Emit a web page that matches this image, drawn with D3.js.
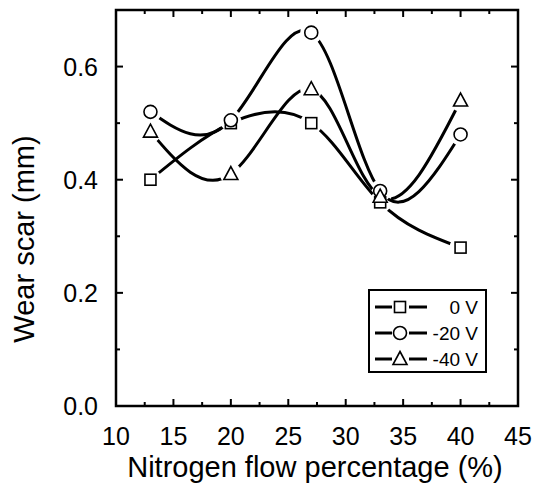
<!DOCTYPE html>
<html>
<head>
<meta charset="utf-8">
<script src="https://cdn.jsdelivr.net/npm/d3@7"></script>
<style>
  body { margin: 0; background: #fff; }
  text { font-family: "Liberation Sans", Arial, sans-serif; fill: #000; }
</style>
</head>
<body>
<script>
// data
const nitrogen = [13, 20, 27, 33, 40];
const wear0V = [0.40, 0.50, 0.50, 0.36, 0.28];
const wear20V = [0.52, 0.505, 0.66, 0.38, 0.48];
const wear40V = [0.485, 0.41, 0.56, 0.37, 0.54];
const seriesNames = ["0 V", "-20 V", "-40 V"];
const seriesShapes = ["square", "circle", "triangle"];
const xTicks = [10, 15, 20, 25, 30, 35, 40, 45];
const yTicks = [0.0, 0.2, 0.4, 0.6];

const width = 538, height = 487;
const margin = { top: 10, right: 20, bottom: 81, left: 116 };
const w = width - margin.left - margin.right, h = height - margin.top - margin.bottom;

const svg = d3.select("body").append("svg")
  .attr("width", width).attr("height", height);
const g = svg.append("g").attr("transform", `translate(${margin.left},${margin.top})`);

const x = d3.scaleLinear().domain([10, 45]).range([0, w]);
const y = d3.scaleLinear().domain([0, 0.7]).range([h, 0]);

// frame
g.append("rect").attr("width", w).attr("height", h)
  .attr("fill", "none").attr("stroke", "#000").attr("stroke-width", 2.5);

// ticks, all pointing inward, on every side
const xMinor = d3.range(12.5, 45, 5);
const yMinor = [0.1, 0.3, 0.5];
function tickLines(vals, len, horiz) {
  vals.forEach(v => {
    if (horiz) {
      g.append("line").attr("x1", x(v)).attr("x2", x(v)).attr("y1", h).attr("y2", h - len)
        .attr("stroke", "#000").attr("stroke-width", 2);
      g.append("line").attr("x1", x(v)).attr("x2", x(v)).attr("y1", 0).attr("y2", len)
        .attr("stroke", "#000").attr("stroke-width", 2);
    } else {
      g.append("line").attr("y1", y(v)).attr("y2", y(v)).attr("x1", 0).attr("x2", len)
        .attr("stroke", "#000").attr("stroke-width", 2);
      g.append("line").attr("y1", y(v)).attr("y2", y(v)).attr("x1", w).attr("x2", w - len)
        .attr("stroke", "#000").attr("stroke-width", 2);
    }
  });
}
tickLines(xTicks.slice(1, -1), 7, true);
tickLines(xMinor, 4, true);
tickLines(yTicks.slice(1), 7, false);
tickLines(yMinor, 4, false);

// tick labels
g.selectAll(".xlab").data(xTicks).enter().append("text")
  .attr("x", d => x(d)).attr("y", h + 39)
  .attr("text-anchor", "middle").attr("font-size", 25)
  .text(d => d);
g.selectAll(".ylab").data(yTicks).enter().append("text")
  .attr("x", -18).attr("y", d => y(d) + 9)
  .attr("text-anchor", "end").attr("font-size", 25)
  .text(d => d.toFixed(1));

// axis titles
svg.append("text").attr("x", 315).attr("y", 477)
  .attr("text-anchor", "middle").attr("font-size", 29)
  .text("Nitrogen flow percentage (%)");
svg.append("text").attr("transform", "translate(34,239) rotate(-90)")
  .attr("text-anchor", "middle").attr("font-size", 29)
  .text("Wear scar (mm)");

function marker(sel, shape) {
  if (shape === "square") {
    sel.append("rect").attr("x", -5.5).attr("y", -5.5).attr("width", 11).attr("height", 11);
  } else if (shape === "circle") {
    sel.append("circle").attr("r", 6.5);
  } else {
    sel.append("path").attr("d", "M0,-7.5L7,5.5L-7,5.5Z");
  }
  sel.selectAll("*").attr("fill", "#fff").attr("stroke", "#000").attr("stroke-width", 1.6);
}

const allSeries = [wear0V, wear20V, wear40V];
const line = d3.line().x(d => x(d[0])).y(d => y(d[1])).curve(d3.curveNatural);
const defs = svg.append("defs");

allSeries.forEach((vals, i) => {
  const pts = nitrogen.map((n, j) => [n, vals[j]]);
  // gap in the line round each symbol
  const mask = defs.append("mask").attr("id", "gap" + i).attr("maskUnits", "userSpaceOnUse")
    .attr("x", 0).attr("y", 0).attr("width", w).attr("height", h);
  mask.append("rect").attr("width", w).attr("height", h).attr("fill", "#fff");
  pts.forEach(p => mask.append("circle").attr("cx", x(p[0])).attr("cy", y(p[1])).attr("r", 11).attr("fill", "#000"));

  g.append("path").datum(pts).attr("d", line)
    .attr("fill", "none").attr("stroke", "#000").attr("stroke-width", 3)
    .attr("mask", `url(#gap${i})`);
});

allSeries.forEach((vals, i) => {
  nitrogen.forEach((n, j) => {
    const m = g.append("g").attr("transform", `translate(${x(n)},${y(vals[j])})`);
    marker(m, seriesShapes[i]);
  });
});

// legend
const lg = svg.append("g").attr("transform", "translate(369,290)");
lg.append("rect").attr("width", 117).attr("height", 82)
  .attr("fill", "#fff").attr("stroke", "#000").attr("stroke-width", 2);
seriesNames.forEach((name, i) => {
  const ry = 17 + i * 26;
  lg.append("line").attr("x1", 6).attr("x2", 23).attr("y1", ry).attr("y2", ry)
    .attr("stroke", "#000").attr("stroke-width", 3);
  lg.append("line").attr("x1", 40).attr("x2", 58).attr("y1", ry).attr("y2", ry)
    .attr("stroke", "#000").attr("stroke-width", 3);
  const m = lg.append("g").attr("transform", `translate(31,${ry})`);
  marker(m, seriesShapes[i]);
  lg.append("text").attr("x", 109).attr("y", ry + 7).attr("text-anchor", "end")
    .attr("font-size", 19).text(name);
});
</script>
</body>
</html>
